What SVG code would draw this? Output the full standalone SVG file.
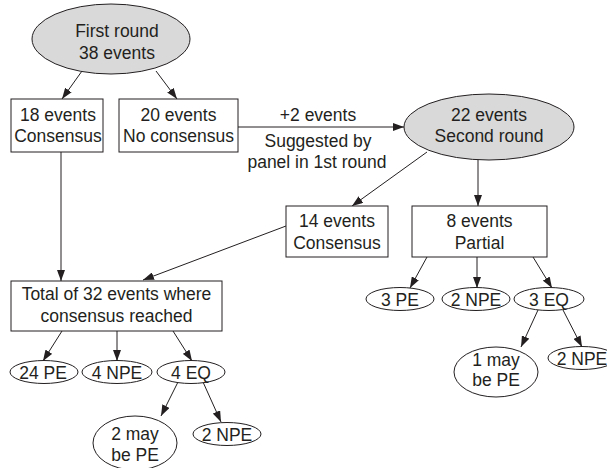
<svg xmlns="http://www.w3.org/2000/svg" width="607" height="468" viewBox="0 0 607 468">
<style>
  .t { font-family: "Liberation Sans", Arial, sans-serif; font-size: 17.5px; fill: #231f20; text-anchor: middle; }
  .box { fill: #ffffff; stroke: #231f20; stroke-width: 1; }
  .oval { fill: #ffffff; stroke: #231f20; stroke-width: 1; }
  .grey { fill: #d9d9d9; stroke: #231f20; stroke-width: 1; }
  .c { stroke: #231f20; stroke-width: 1; fill: none; }
  .a { marker-end: url(#arr); }
</style>
<defs>
  <marker id="arr" markerUnits="userSpaceOnUse" markerWidth="11" markerHeight="8" refX="11" refY="4" orient="auto">
    <path d="M0,0 L11,4 L0,8 z" fill="#231f20"/>
  </marker>
</defs>
<rect width="607" height="468" fill="#ffffff"/>
<g id="connectors">
  <line class="c a" x1="82" y1="71" x2="62" y2="99"/>
  <line class="c a" x1="156" y1="71" x2="177" y2="99"/>
  <line class="c a" x1="238" y1="127" x2="404" y2="127"/>
  <line class="c a" x1="61" y1="152" x2="61" y2="281"/>
  <line class="c a" x1="286" y1="226" x2="143" y2="280"/>
  <line class="c a" x1="427" y1="152" x2="352" y2="206"/>
  <line class="c a" x1="478" y1="160" x2="478" y2="206"/>
  <line class="c a" x1="62" y1="331" x2="43" y2="361"/>
  <line class="c a" x1="117" y1="331" x2="117" y2="361"/>
  <line class="c a" x1="173" y1="331" x2="192" y2="361"/>
  <line class="c a" x1="178" y1="382" x2="161" y2="416"/>
  <line class="c a" x1="203" y1="382" x2="221" y2="422"/>
  <line class="c a" x1="427" y1="257" x2="410" y2="288"/>
  <line class="c a" x1="477" y1="257" x2="477" y2="288"/>
  <line class="c a" x1="533" y1="257" x2="552" y2="288"/>
  <line class="c a" x1="538" y1="310" x2="521" y2="347"/>
  <line class="c a" x1="563" y1="310" x2="582" y2="347"/>
</g>
<g id="label-suggested">
  <text class="t" x="318" y="121">+2 events</text>
  <text class="t" x="318" y="147">Suggested by</text>
  <text class="t" x="317" y="168">panel in 1st round</text>
</g>
<g id="first-round">
  <ellipse class="grey" cx="111" cy="39" rx="79" ry="35"/>
  <text class="t" x="117" y="37">First round</text>
  <text class="t" x="117" y="59">38 events</text>
</g>
<g id="n18">
  <rect class="box" x="11" y="99" width="92" height="53"/>
  <text class="t" x="58" y="121">18 events</text>
  <text class="t" x="58" y="142">Consensus</text>
</g>
<g id="n20">
  <rect class="box" x="119" y="99" width="119" height="53"/>
  <text class="t" x="178.5" y="121">20 events</text>
  <text class="t" x="178.5" y="142">No consensus</text>
</g>
<g id="second-round">
  <ellipse class="grey" cx="489" cy="127" rx="85" ry="33"/>
  <text class="t" x="489" y="121">22 events</text>
  <text class="t" x="489" y="142">Second round</text>
</g>
<g id="n14">
  <rect class="box" x="286" y="206" width="102" height="51"/>
  <text class="t" x="337" y="227">14 events</text>
  <text class="t" x="337" y="249">Consensus</text>
</g>
<g id="n8">
  <rect class="box" x="412" y="206" width="135" height="51"/>
  <text class="t" x="479.5" y="227">8 events</text>
  <text class="t" x="479.5" y="249">Partial</text>
</g>
<g id="total">
  <rect class="box" x="11" y="281" width="211" height="50"/>
  <text class="t" x="116.5" y="300">Total of 32 events where</text>
  <text class="t" x="116.5" y="322">consensus reached</text>
</g>
<g id="pe24">
  <ellipse class="oval" cx="44" cy="372" rx="34" ry="11.5"/>
  <text class="t" x="43" y="379">24 PE</text>
</g>
<g id="npe4">
  <ellipse class="oval" cx="117" cy="372" rx="35" ry="11.5"/>
  <text class="t" x="117" y="379">4 NPE</text>
</g>
<g id="eq4">
  <ellipse class="oval" cx="191" cy="372" rx="34" ry="11.5"/>
  <text class="t" x="191" y="379">4 EQ</text>
</g>
<g id="maybe2">
  <ellipse class="oval" cx="135" cy="443" rx="42" ry="27"/>
  <text class="t" x="135" y="440">2 may</text>
  <text class="t" x="135" y="461">be PE</text>
</g>
<g id="npe2a">
  <ellipse class="oval" cx="227" cy="434" rx="34" ry="11.5"/>
  <text class="t" x="227" y="441">2 NPE</text>
</g>
<g id="pe3">
  <ellipse class="oval" cx="400" cy="299" rx="34" ry="11.5"/>
  <text class="t" x="400" y="306">3 PE</text>
</g>
<g id="npe2b">
  <ellipse class="oval" cx="476" cy="299" rx="34" ry="11.5"/>
  <text class="t" x="476" y="306">2 NPE</text>
</g>
<g id="eq3">
  <ellipse class="oval" cx="549" cy="299" rx="35" ry="11.5"/>
  <text class="t" x="549" y="306">3 EQ</text>
</g>
<g id="maybe1">
  <ellipse class="oval" cx="496" cy="372" rx="42" ry="25"/>
  <text class="t" x="496" y="366">1 may</text>
  <text class="t" x="496" y="386">be PE</text>
</g>
<g id="npe2c">
  <ellipse class="oval" cx="582" cy="358" rx="34" ry="11.5"/>
  <text class="t" x="582" y="365">2 NPE</text>
</g>
</svg>
